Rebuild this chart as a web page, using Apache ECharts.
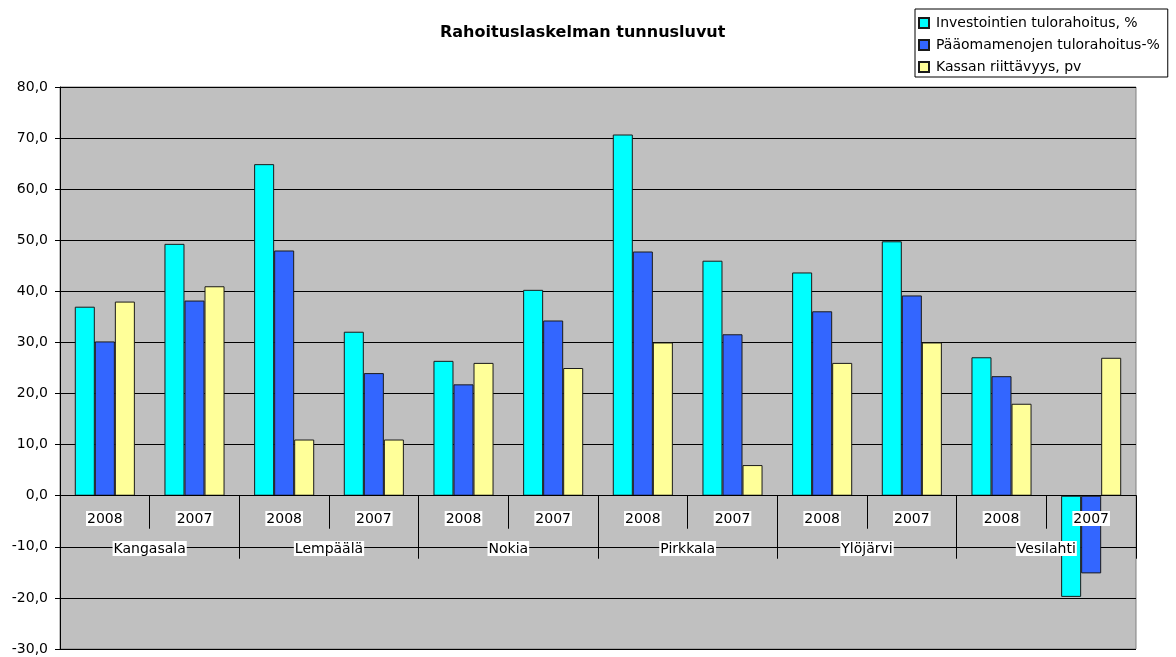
<!DOCTYPE html>
<html>
<head>
<meta charset="utf-8">
<script src="https://cdn.jsdelivr.net/npm/echarts@6/dist/echarts.min.js"></script>
<style>
  html, body { margin: 0; padding: 0; background: #fff; }
  #chart { width: 1176px; height: 657px; }
</style>
</head>
<body>
<div id="chart"></div>
<script>
var years = ['2008', '2007', '2008', '2007', '2008', '2007', '2008', '2007', '2008', '2007', '2008', '2007'];
var kunnat = ['Kangasala', 'Lempäälä', 'Nokia', 'Pirkkala', 'Ylöjärvi', 'Vesilahti'];
var investoinnit = [37.0, 49.3, 64.9, 32.1, 26.4, 40.3, 70.7, 46.0, 43.7, 49.8, 27.1, -19.8];
var paaomamenot = [30.2, 38.2, 48.0, 24.0, 21.8, 34.3, 47.8, 31.6, 36.1, 39.2, 23.4, -15.2];
var kassa = [38, 41, 11, 11, 26, 25, 30, 6, 26, 30, 18, 27];

var fontName = 'DejaVu Sans';

function createChart() {
    var chart = echarts.init(document.getElementById('chart'));

    chart.setOption({
        animation: false,
        title: {
            text: 'Rahoituslaskelman tunnusluvut',
            left: 440,
            top: 25,
            padding: 0,
            textStyle: { fontFamily: fontName, fontSize: 16, fontWeight: 'bold', color: '#000' }
        },
        legend: {
            orient: 'vertical',
            left: 915,
            top: 9,
            padding: [7, 8, 3, 3],
            itemWidth: 10,
            itemHeight: 10,
            itemGap: 8,
            backgroundColor: '#fff',
            borderColor: '#000',
            borderWidth: 1,
            icon: 'rect',
            textStyle: { fontFamily: fontName, fontSize: 14, color: '#000', padding: [0, 0, 0, 2] }
        },
        grid: {
            left: 60,
            right: 40,
            top: 87,
            bottom: 8,
            outerBoundsMode: 'none',
            containLabel: false,
            show: true,
            backgroundColor: '#c0c0c0',
            borderColor: '#808080',
            borderWidth: 1
        },
        xAxis: [{
            type: 'category',
            data: years,
            position: 'bottom',
            z: 3,
            axisLine: { onZero: true, onZeroAxisIndex: 0, lineStyle: { color: '#000', width: 1 } },
            axisTick: { show: true, interval: 0, length: 33, lineStyle: { color: '#000' } },
            axisLabel: {
                interval: 0,
                margin: -138,
                fontFamily: fontName,
                fontSize: 14,
                color: '#000',
                backgroundColor: '#fff',
                padding: [1, 1, 0, 1]
            },
            splitLine: { show: false }
        }, {
            type: 'category',
            data: kunnat,
            position: 'bottom',
            z: 3,
            axisLine: { onZero: true, onZeroAxisIndex: 1, lineStyle: { color: '#000', width: 1 } },
            axisTick: { show: true, interval: 0, length: 63, lineStyle: { color: '#000' } },
            axisLabel: {
                interval: 0,
                margin: -108,
                fontFamily: fontName,
                fontSize: 14,
                color: '#000',
                backgroundColor: '#fff',
                padding: [1, 1, 0, 1]
            },
            splitLine: { show: false }
        }],
        yAxis: [{
            type: 'value',
            min: -30,
            max: 80,
            interval: 10,
            axisLine: { show: true, onZero: false, lineStyle: { color: '#000' } },
            axisTick: { show: true, length: 5, lineStyle: { color: '#000' } },
            axisLabel: {
                margin: 12,
                fontFamily: fontName,
                fontSize: 14,
                color: '#000',
                formatter: function (v) { return v.toFixed(1).replace('.', ','); }
            },
            splitLine: { show: true, lineStyle: { color: '#000', width: 1 } }
        }, {
            type: 'value',
            min: -30,
            max: 80,
            interval: 10,
            show: false
        }],
        series: [{
            name: 'Investointien tulorahoitus, %',
            type: 'bar',
            data: investoinnit,
            barGap: '0%',
            barCategoryGap: '33%',
            itemStyle: { color: '#00ffff', borderColor: '#1a1a1a', borderWidth: 1 }
        }, {
            name: 'Pääomamenojen tulorahoitus-%',
            type: 'bar',
            data: paaomamenot,
            itemStyle: { color: '#3366ff', borderColor: '#1a1a1a', borderWidth: 1 }
        }, {
            name: 'Kassan riittävyys, pv',
            type: 'bar',
            data: kassa,
            itemStyle: { color: '#ffff99', borderColor: '#1a1a1a', borderWidth: 1 }
        }]
    });
}

createChart();
</script>
</body>
</html>
